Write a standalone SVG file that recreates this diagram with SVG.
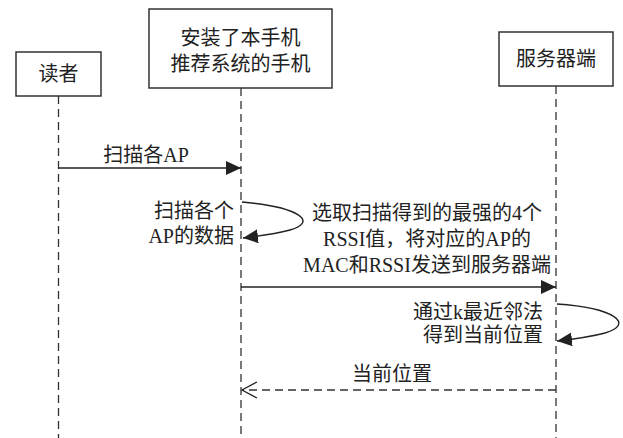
<svg xmlns="http://www.w3.org/2000/svg" width="623" height="438" viewBox="0 0 623 438">
<defs>
<marker id="fill" markerWidth="16" markerHeight="14" refX="15" refY="7" orient="auto" markerUnits="userSpaceOnUse"><path d="M0,0 L15,7 L0,14 Z" fill="#222"/></marker>
<marker id="open" markerWidth="18" markerHeight="18" refX="16" refY="9" orient="auto" markerUnits="userSpaceOnUse"><path d="M1,1 L16,9 L1,17" fill="none" stroke="#222" stroke-width="1.3"/></marker>
</defs>
<style>
.box{fill:#fff;stroke:#333;stroke-width:1.5}
.life{stroke:#333;stroke-width:1.3;stroke-dasharray:8 5;fill:none}
.msg{stroke:#222;stroke-width:1.4;fill:none}
.ret{stroke:#333;stroke-width:1.3;stroke-dasharray:8 5;fill:none}
text{font-family:"Liberation Serif","Noto Sans CJK SC",serif;font-size:20px;fill:#222}
.c{text-anchor:middle}
.r{text-anchor:end}
</style>
<rect width="623" height="438" fill="#fff"/>
<g id="reader">
<rect class="box" x="16" y="52" width="85" height="44"/>
<text class="c" x="58.5" y="81">读者</text>
<line class="life" x1="58.5" y1="96" x2="58.5" y2="438"/>
</g>
<g id="phone">
<rect class="box" x="149" y="9" width="183" height="79"/>
<text class="c" x="240.5" y="45">安装了本手机</text>
<text class="c" x="240.5" y="71">推荐系统的手机</text>
<line class="life" x1="241" y1="88" x2="241" y2="438"/>
</g>
<g id="server">
<rect class="box" x="499" y="32" width="114" height="54"/>
<text class="c" x="556" y="66">服务器端</text>
<line class="life" x1="556" y1="86" x2="556" y2="438"/>
</g>
<g id="connectors">
<line class="msg" x1="58.5" y1="168" x2="241" y2="168" marker-end="url(#fill)"/>
<text class="c" x="146" y="162">扫描各AP</text>
<path class="msg" d="M242,202 C300,207 318,222 290,230 C275,234 260,236 243,238" marker-end="url(#fill)"/>
<text class="r" x="234" y="218">扫描各个</text>
<text class="r" x="234" y="243">AP的数据</text>
<text class="c" x="427" y="220">选取扫描得到的最强的4个</text>
<text class="c" x="427" y="246">RSSI值，将对应的AP的</text>
<text class="c" x="427" y="272">MAC和RSSI发送到服务器端</text>
<line class="msg" x1="241" y1="287" x2="556" y2="287" marker-end="url(#fill)"/>
<path class="msg" d="M557,304 C615,308 635,324 605,333 C590,337 575,339 557,341" marker-end="url(#fill)"/>
<text class="r" x="543" y="319">通过k最近邻法</text>
<text class="r" x="543" y="342">得到当前位置</text>
<text class="c" x="392" y="381">当前位置</text>
<line class="ret" x1="556" y1="390" x2="242" y2="390" marker-end="url(#open)"/>
</g>
</svg>
